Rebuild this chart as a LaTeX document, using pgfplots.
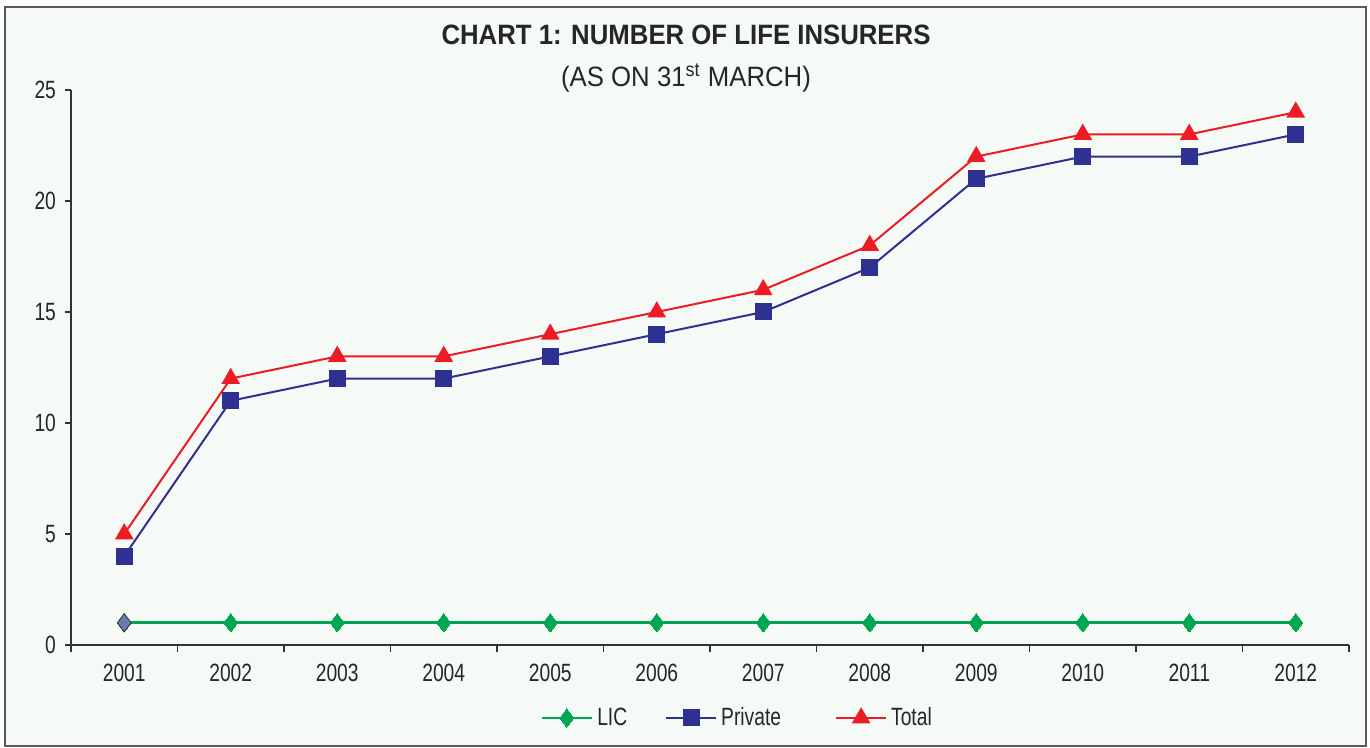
\documentclass[border=0pt]{standalone}
\usepackage{pgfplots}
\pgfplotsset{compat=1.18}
\usepackage{fontspec}
\setmainfont{Liberation Sans}[FakeStretch=0.77]
\newfontfamily\titlefont{Liberation Sans}[FakeStretch=0.92]
\definecolor{bgmint}{HTML}{F5FAF7}
\definecolor{framegray}{HTML}{5A5A5A}
\definecolor{licgreen}{HTML}{00A651}
\definecolor{privblue}{HTML}{2E3192}
\definecolor{totred}{HTML}{ED1C24}
\definecolor{firstmark}{HTML}{7078B0}
\definecolor{axisgray}{HTML}{333333}

\begin{document}
\begin{tikzpicture}
\useasboundingbox (0,0) rectangle (685pt,374pt);
\fill[white] (0,0) rectangle (685pt,374pt);
\draw[framegray, line width=1pt, fill=bgmint] (2.5pt,1pt) rectangle (683pt,370.5pt);

\node[anchor=base, font=\titlefont\fontsize{14}{16}\selectfont\bfseries, text=black!85] at (343pt,351.5pt)
  {CHART 1: NUMBER OF LIFE INSURERS};
\node[anchor=base, font=\titlefont\fontsize{14}{16}\selectfont, text=black!85] at (343pt,330.5pt)
  {(AS ON 31\textsuperscript{st} MARCH)};

\begin{axis}[
  at={(35.5pt,51.5pt)}, anchor=south west,
  scale only axis, width=639pt, height=277.5pt,
  axis lines*=left,
  axis line style={axisgray, line width=0.6pt},
  xmin=-0.5, xmax=11.5, ymin=0, ymax=25,
  xtick={0,...,11},
  xticklabels={2001,2002,2003,2004,2005,2006,2007,2008,2009,2010,2011,2012},
  major x tick style={draw=none},
  minor xtick={-0.5,0.5,...,11.5},
  minor x tick style={axisgray, line width=0.6pt},
  minor tick length=3.5pt,
  ytick={0,5,10,15,20,25},
  y tick style={axisgray, line width=0.6pt},
  major tick length=3pt,
  tick align=outside,
  tick label style={font=\fontsize{12.5}{14}\selectfont, text=black!85},
  /pgf/number format/assume math mode=true,
  xticklabel style={yshift=-3pt},
  yticklabel style={xshift=-1pt},
  legend columns=3,
  legend style={draw=none, fill=none, at={(axis description cs:0.522,-0.1315)}, anchor=center,
    font=\fontsize{12.5}{14}\selectfont, text=black!85,
    /tikz/column 2/.style={column sep=17pt},
    /tikz/column 4/.style={column sep=25pt}},
  legend image code/.code={\draw[mark repeat=2,mark phase=2] plot coordinates {(0pt,0pt)(12.5pt,0pt)(25pt,0pt)};},
]
\addplot[licgreen, line width=1.4pt, mark=diamond*, mark size=4.6pt, mark options={fill=licgreen, draw=licgreen, line width=0pt}]
  coordinates {(0,1)(1,1)(2,1)(3,1)(4,1)(5,1)(6,1)(7,1)(8,1)(9,1)(10,1)(11,1)};
\addlegendentry{LIC}
\addplot[privblue, line width=1pt, mark=square*, mark size=3.75pt, mark options={fill=privblue, draw=privblue}]
  coordinates {(0,4)(1,11)(2,12)(3,12)(4,13)(5,14)(6,15)(7,17)(8,21)(9,22)(10,22)(11,23)};
\addlegendentry{Private}
\addplot[totred, line width=1pt, mark=triangle*, mark size=4.4pt, mark options={fill=totred, draw=totred}]
  coordinates {(0,5)(1,12)(2,13)(3,13)(4,14)(5,15)(6,16)(7,18)(8,22)(9,23)(10,23)(11,24)};
\addlegendentry{Total}
% first LIC point is drawn in a different shade
\addplot[forget plot, only marks, mark=diamond*, mark size=4.6pt, mark options={fill=firstmark, draw=black!80, line width=0.4pt}]
  coordinates {(0,1)};
\end{axis}
\end{tikzpicture}
\end{document}
